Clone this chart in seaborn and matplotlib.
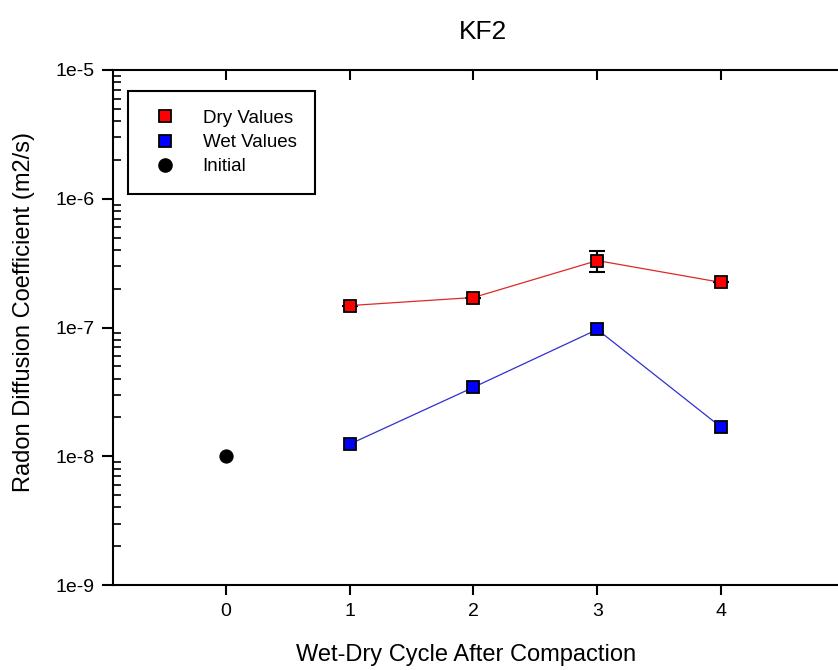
import matplotlib
matplotlib.use("Agg")
import matplotlib.pyplot as plt
import seaborn as sns
import pandas as pd
from matplotlib.lines import Line2D
from matplotlib.ticker import LogLocator, NullFormatter

# ---- data ----
cycles = [1, 2, 3, 4]
dry_values = [1.48e-7, 1.71e-7, 3.31e-7, 2.24e-7]
dry_err_low = [0, 0, 0.59e-7, 0]
dry_err_high = [0, 0, 0.65e-7, 0]
wet_values = [1.24e-8, 3.43e-8, 9.65e-8, 1.68e-8]
initial_x = [0]
initial_values = [1.0e-8]

title = "KF2"
xlabel = "Wet-Dry Cycle After Compaction"
ylabel = "Radon Diffusion Coefficient (m2/s)"
xticks = [0, 1, 2, 3, 4]
yticks = [1e-9, 1e-8, 1e-7, 1e-6, 1e-5]
yticklabels = ["1e-9", "1e-8", "1e-7", "1e-6", "1e-5"]
legend_labels = ["Dry Values", "Wet Values", "Initial"]

sns.set_style("ticks")
plt.rcParams["font.family"] = ["Liberation Sans", "DejaVu Sans"]
plt.rcParams["text.color"] = "black"
plt.rcParams["axes.labelcolor"] = "black"
plt.rcParams["xtick.color"] = "black"
plt.rcParams["ytick.color"] = "black"

fig = plt.figure(figsize=(8.38, 6.70), dpi=100)
ax = fig.add_axes([113 / 838, 1 - 585 / 670, (845 - 113) / 838, (585 - 70) / 670])

df_dry = pd.DataFrame({"cycle": cycles, "value": dry_values})
df_wet = pd.DataFrame({"cycle": cycles, "value": wet_values})
df_init = pd.DataFrame({"cycle": initial_x, "value": initial_values})

ax.errorbar(cycles, dry_values, yerr=[dry_err_low, dry_err_high], fmt="none",
            ecolor="black", elinewidth=1.5, capsize=5.8, capthick=1.5, zorder=3)

sns.lineplot(data=df_dry, x="cycle", y="value", ax=ax, color="#e02828",
             linewidth=0.9, marker="s", markersize=8.5, markerfacecolor="#ff0000",
             markeredgecolor="black", markeredgewidth=1.3, zorder=4)
sns.lineplot(data=df_wet, x="cycle", y="value", ax=ax, color="#3030d0",
             linewidth=0.9, marker="s", markersize=8.5, markerfacecolor="#0000ff",
             markeredgecolor="black", markeredgewidth=1.3, zorder=4)
sns.scatterplot(data=df_init, x="cycle", y="value", ax=ax, color="black",
                s=90, marker="o", edgecolor="black", zorder=5)

ax.set_yscale("log")
ax.set_ylim(1e-9, 1e-5)
ax.set_xlim(-0.91, 5.0)
ax.set_xticks(xticks)
ax.set_xticklabels([str(t) for t in xticks])
ax.set_yticks(yticks)
ax.set_yticklabels(yticklabels)
ax.yaxis.set_minor_locator(LogLocator(base=10, subs=range(2, 10), numticks=20))
ax.yaxis.set_minor_formatter(NullFormatter())

for s in ax.spines.values():
    s.set_linewidth(1.5)
    s.set_color("black")

ax.tick_params(axis="x", which="major", direction="out", length=7, width=1.5,
               labelsize=14, pad=6, colors="black", top=False)
ax.tick_params(axis="y", which="major", direction="out", length=8, width=1.5,
               labelsize=14, pad=5, colors="black")
ax.tick_params(axis="y", which="minor", direction="in", length=6, width=1.2,
               colors="black", left=True)

sec = ax.secondary_xaxis("top")
sec.set_xticks(xticks)
sec.set_xticklabels([])
sec.tick_params(direction="in", length=7, width=1.5, colors="black")
sec.spines["top"].set_visible(False)

ax.set_xlabel(xlabel, fontsize=17)
ax.xaxis.set_label_coords(0.482, -0.114)
ax.set_ylabel(ylabel, fontsize=17)
ax.yaxis.set_label_coords(-0.107, 0.53)
ax.set_title(title, fontsize=19, x=0.505, y=1.060, pad=0)

handles = [
    Line2D([], [], linestyle="none", marker="s", markersize=8,
           markerfacecolor="#ff0000", markeredgecolor="black", markeredgewidth=1.3),
    Line2D([], [], linestyle="none", marker="s", markersize=8,
           markerfacecolor="#0000ff", markeredgecolor="black", markeredgewidth=1.3),
    Line2D([], [], linestyle="none", marker="o", markersize=9.5,
           markerfacecolor="black", markeredgecolor="black"),
]
leg = ax.legend(handles, legend_labels, loc="upper left",
                bbox_to_anchor=(0.02, 0.959), borderaxespad=0, fontsize=13.5,
                frameon=True, fancybox=False, edgecolor="black", framealpha=1,
                borderpad=1.0, labelspacing=0.38, handletextpad=1.0,
                handlelength=2.0)
leg.get_frame().set_linewidth(1.5)

fig.savefig("out.png", dpi=100)
